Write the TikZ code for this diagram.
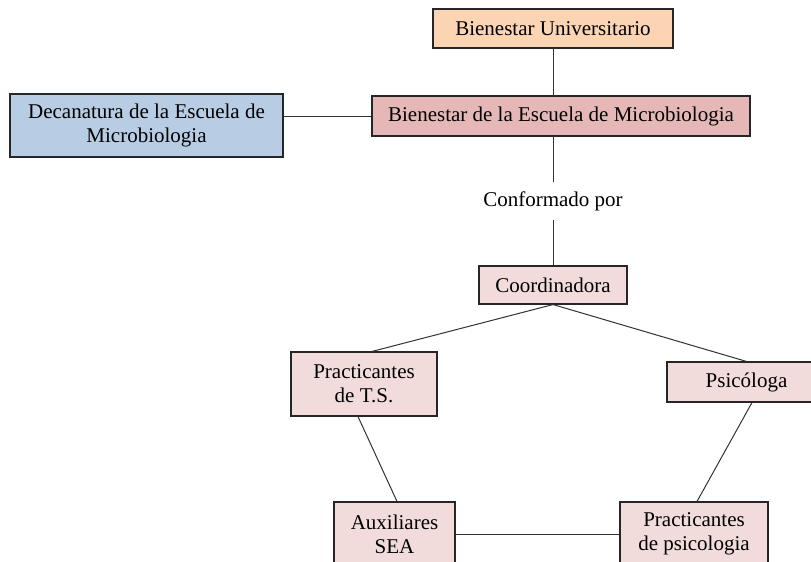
\documentclass[tikz,border=0pt]{standalone}
\usepackage{fontspec}
\setmainfont{Liberation Serif}
\begin{document}
\begin{tikzpicture}[x=1pt,y=-1pt,
  box/.style={draw=black!85, line width=1.1pt, inner sep=0pt, align=center,
    font=\fontsize{21}{24}\selectfont},
  conn/.style={draw=black!80, line width=1pt}]
\definecolor{peach}{HTML}{FBD4B4}
\definecolor{rosebox}{HTML}{E5B8B7}
\definecolor{bluebox}{HTML}{B8CCE4}
\definecolor{pinkbox}{HTML}{F2DBDB}
\useasboundingbox (0,0) rectangle (811,562);
\clip (0,0) rectangle (811,562);
\fill[white] (0,0) rectangle (811,562);
\node[box, fill=peach, minimum width=240pt, minimum height=39pt] (bu) at (553,28.5) {Bienestar Universitario};
\node[box, fill=rosebox, minimum width=378pt, minimum height=40pt] (bem) at (561,116) {Bienestar de la Escuela de Microbiologia};
\node[box, fill=bluebox, minimum width=273pt, minimum height=63pt] (dec) at (146.5,125.5) {Decanatura de la Escuela de\\Microbiologia};
\node[inner sep=0pt, minimum height=38pt, font=\fontsize{21}{24}\selectfont] (conf) at (553,201) {Conformado por};
\node[box, fill=pinkbox, minimum width=148pt, minimum height=38pt] (coord) at (553,285) {Coordinadora};
\node[box, fill=pinkbox, minimum width=146pt, minimum height=64pt] (ts) at (364,384) {Practicantes\\de T.S.};
\node[box, fill=pinkbox, minimum width=159pt, minimum height=40pt] (psi) at (746.5,382) {Psic\'ologa};
\node[box, fill=pinkbox, minimum width=121pt, minimum height=64pt] (aux) at (394.5,534) {Auxiliares\\SEA};
\node[box, fill=pinkbox, minimum width=148pt, minimum height=64pt] (pp) at (694,534) {Practicantes\\de psicologia};
\draw[conn] (bu.south) -- (bu.south |- bem.north);
\draw[conn] (bem.west) -- (bem.west -| dec.east);
\draw[conn] (bem.south -| conf.north) -- (conf.north);
\draw[conn] (conf.south) -- (coord.north);
\draw[conn] (coord.south) -- ([xshift=8pt]ts.north);
\draw[conn] (coord.south) -- (psi.north);
\draw[conn] ([xshift=-6pt]ts.south) -- ([xshift=2.5pt]aux.north);
\draw[conn] ([xshift=5.5pt]psi.south) -- ([xshift=3pt]pp.north);
\draw[conn] (aux.east) -- (pp.west);
\end{tikzpicture}
\end{document}
